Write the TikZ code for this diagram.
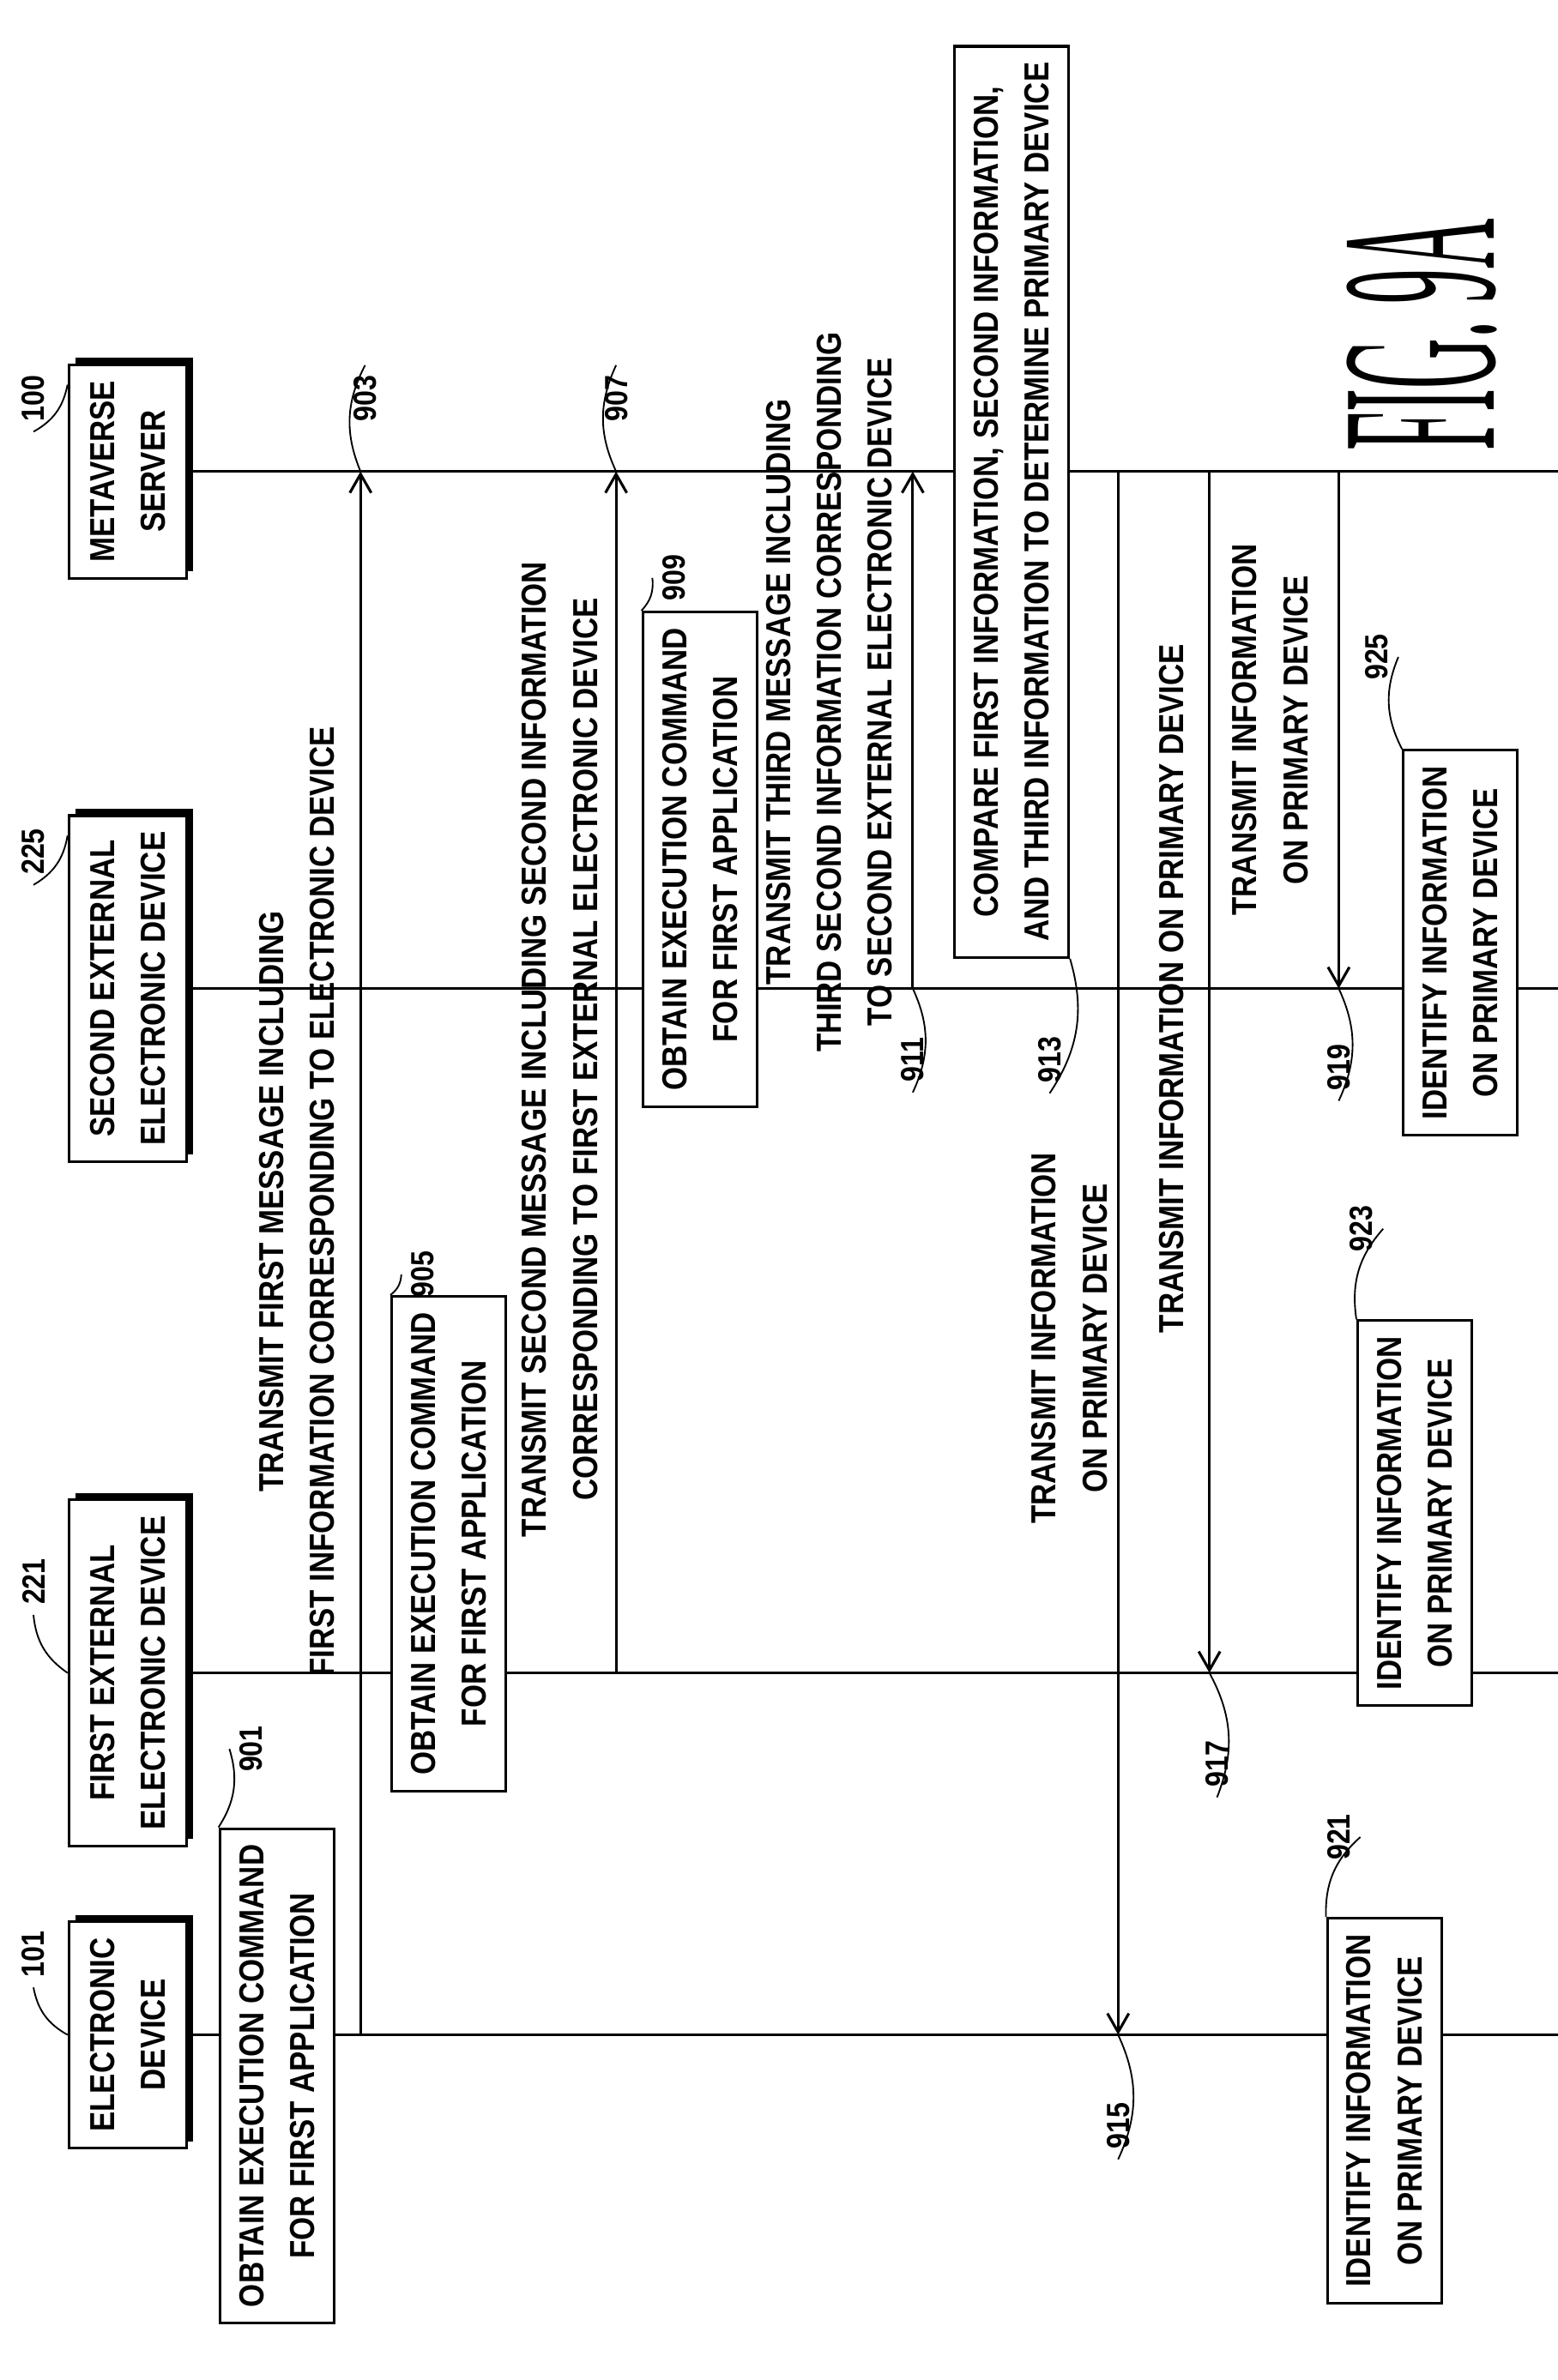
\documentclass[tikz,border=0pt]{standalone}
\usepackage{fontspec}
\setsansfont{Liberation Sans}[FakeStretch=0.86]
\setmainfont{Liberation Serif}
\usepackage{tikz}
\usetikzlibrary{arrows.meta,positioning,shadows}

\tikzset{
  every node/.style={font=\sffamily\bfseries\fontsize{13}{19}\selectfont, align=center},
  actor/.style={draw, fill=white, rotate=90, minimum height=1.55cm, inner sep=6pt,
    general shadow={fill=black, shadow xshift=2.5pt, shadow yshift=2.5pt}},
  stepbox/.style={draw, fill=white, rotate=90, minimum height=1.5cm, inner sep=6pt},
  note/.style={rotate=90},
  refnum/.style={rotate=90, font=\sffamily\bfseries\fontsize{12}{14}\selectfont},
  msg/.style={-{Straight Barb[length=7pt,width=8pt]}},
  leader/.style={line width=0.6pt}
}

\begin{document}
\begin{tikzpicture}[x=0.02cm, y=-0.02cm, line width=1pt]
\useasboundingbox (0,0) rectangle (1024,1565);

% participants
\node[actor] (ed) at (84,1338) {ELECTRONIC\\DEVICE};
\node[actor] (fe) at (84,1100) {FIRST EXTERNAL\\ELECTRONIC DEVICE};
\node[actor] (se) at (84,650) {SECOND EXTERNAL\\ELECTRONIC DEVICE};
\node[actor] (ms) at (84,310) {METAVERSE\\SERVER};

% lifelines
\foreach \p in {ed,fe,se,ms}
  \draw (\p.south) -- (1024,0 |- \p);

% time marks for messages
\coordinate (t903) at (237,0);
\coordinate (t907) at (405,0);
\coordinate (t911) at (600,0);
\coordinate (t915) at (735,0);
\coordinate (t917) at (795,0);
\coordinate (t919) at (880,0);

% messages
\draw[msg] (ed -| t903) -- (ms -| t903);
\draw[msg] (fe -| t907) -- (ms -| t907);
\draw[msg] (se -| t911) -- (ms -| t911);
\draw[msg] (ms -| t915) -- (ed -| t915);
\draw[msg] (ms -| t917) -- (fe -| t917);
\draw[msg] (ms -| t919) -- (se -| t919);

\node[note] (n903) at (195,790) {TRANSMIT FIRST MESSAGE INCLUDING\\FIRST INFORMATION CORRESPONDING TO ELECTRONIC DEVICE};
\node[note] (n907) at (368,690) {TRANSMIT SECOND MESSAGE INCLUDING SECOND INFORMATION\\CORRESPONDING TO FIRST EXTERNAL ELECTRONIC DEVICE};
\node[note] (n911) at (545,455) {TRANSMIT THIRD MESSAGE INCLUDING\\THIRD SECOND INFORMATION CORRESPONDING\\TO SECOND EXTERNAL ELECTRONIC DEVICE};
\node[note] (n915) at (703,880) {TRANSMIT INFORMATION\\ON PRIMARY DEVICE};
\node[note] (n917) at (770,650) {TRANSMIT INFORMATION ON PRIMARY DEVICE};
\node[note] (n919) at (835,480) {TRANSMIT INFORMATION\\ON PRIMARY DEVICE};

% operations
\node[stepbox] (b901) at (182,1365) {OBTAIN EXECUTION COMMAND\\FOR FIRST APPLICATION};
\node[stepbox] (b905) at (295,1015) {OBTAIN EXECUTION COMMAND\\FOR FIRST APPLICATION};
\node[stepbox] (b909) at (460,565) {OBTAIN EXECUTION COMMAND\\FOR FIRST APPLICATION};
\node[stepbox] (b913) at (665,330) {COMPARE FIRST INFORMATION, SECOND INFORMATION,\\AND THIRD INFORMATION TO DETERMINE PRIMARY DEVICE};
\node[stepbox] (b921) at (910,1388) {IDENTIFY INFORMATION\\ON PRIMARY DEVICE};
\node[stepbox] (b923) at (930,995) {IDENTIFY INFORMATION\\ON PRIMARY DEVICE};
\node[stepbox] (b925) at (960,620) {IDENTIFY INFORMATION\\ON PRIMARY DEVICE};

% reference numerals
\node[refnum] (r101) at (22,1285) {101};
\node[refnum] (r221) at (22,1040) {221};
\node[refnum] (r225) at (22,560) {225};
\node[refnum] (r100) at (22,262) {100};
\node[refnum] (r901) at (165,1150) {901};
\node[refnum] (r903) at (240,262) {903};
\node[refnum] (r905) at (278,838) {905};
\node[refnum] (r907) at (405,262) {907};
\node[refnum] (r909) at (443,380) {909};
\node[refnum] (r911) at (600,697) {911};
\node[refnum] (r913) at (690,697) {913};
\node[refnum] (r915) at (735,1398) {915};
\node[refnum] (r917) at (800,1160) {917};
\node[refnum] (r919) at (880,702) {919};
\node[refnum] (r921) at (880,1208) {921};
\node[refnum] (r923) at (895,808) {923};
\node[refnum] (r925) at (905,432) {925};

\draw[leader] (r101.west) to[bend right=25] (ed.north);
\draw[leader] (r221.west) to[bend right=25] (fe.north);
\draw[leader] (r225.west) to[bend right=25] ([yshift=-8pt]se.north east);
\draw[leader] (r100.west) to[bend right=25] ([yshift=-8pt]ms.north east);
\draw[leader] (r901.north) to[bend left=25] (b901.north east);
\draw[leader] (r903.east) to[bend right=25] (ms -| t903);
\draw[leader] (r905.north) to[bend left=25] (b905.north east);
\draw[leader] (r907.east) to[bend right=25] (ms -| t907);
\draw[leader] (r909.north) to[bend left=25] (b909.north east);
\draw[leader] (r911.west) to[bend right=25] (se -| t911);
\draw[leader] (r913.west) to[bend right=25] (b913.south west);
\draw[leader] (r915.west) to[bend right=25] (ed -| t915);
\draw[leader] (r917.west) to[bend right=25] (fe -| t917);
\draw[leader] (r919.west) to[bend right=25] (se -| t919);
\draw[leader] (r921.south) to[bend right=25] (b921.north east);
\draw[leader] (r923.south) to[bend right=25] (b923.north east);
\draw[leader] (r925.south) to[bend right=25] (b925.north east);

% figure label
\node[rotate=90, yscale=3.2, font=\rmfamily\fontsize{26}{26}\selectfont] (fig) at (935,220) {FIG. 9A};
\end{tikzpicture}
\end{document}
